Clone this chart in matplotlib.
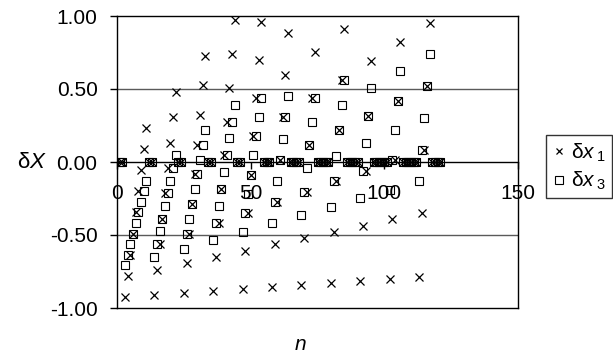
import matplotlib
matplotlib.use('Agg')
import matplotlib.pyplot as plt

plt.rcParams['font.family'] = ['Liberation Sans', 'DejaVu Sans']
plt.rcParams['mathtext.fontset'] = 'custom'
plt.rcParams['mathtext.rm'] = 'Liberation Sans'
plt.rcParams['mathtext.it'] = 'Liberation Sans:italic'

# ---- data ----
n = list(range(1, 122))

dx1 = [0, 0,
       -0.925, -0.78, -0.635, -0.49, -0.345, -0.2, -0.055, 0.09, 0.235,
       0, 0,
       -0.911, -0.737, -0.563, -0.389, -0.215, -0.041, 0.133, 0.307, 0.481,
       0, 0,
       -0.897, -0.694, -0.491, -0.288, -0.085, 0.118, 0.321, 0.524, 0.727,
       0, 0,
       -0.883, -0.651, -0.419, -0.187, 0.045, 0.277, 0.509, 0.741, 0.973,
       0, 0,
       -0.869, -0.608, -0.347, -0.086, 0.175, 0.436, 0.697, 0.958,
       0, 0, 0,
       -0.855, -0.565, -0.275, 0.015, 0.305, 0.595, 0.885,
       0, 0, 0, 0,
       -0.841, -0.522, -0.203, 0.116, 0.435, 0.754,
       0, 0, 0, 0, 0,
       -0.827, -0.479, -0.131, 0.217, 0.565, 0.913,
       0, 0, 0, 0, 0,
       -0.813, -0.436, -0.059, 0.318, 0.695,
       0, 0, 0, 0, 0, 0,
       -0.799, -0.393, 0.013, 0.419, 0.825,
       0, 0, 0, 0, 0, 0,
       -0.785, -0.35, 0.085, 0.52, 0.955,
       0, 0, 0, 0]

dx3 = [0, 0,
       -0.708, -0.635, -0.563, -0.49, -0.418, -0.345, -0.273, -0.2, -0.128,
       0, 0,
       -0.65, -0.563, -0.476, -0.389, -0.302, -0.215, -0.128, -0.041, 0.046,
       0, 0,
       -0.593, -0.491, -0.39, -0.288, -0.187, -0.085, 0.017, 0.118, 0.22,
       0, 0,
       -0.535, -0.419, -0.303, -0.187, -0.071, 0.045, 0.161, 0.277, 0.393,
       0, 0,
       -0.478, -0.347, -0.217, -0.086, 0.045, 0.175, 0.306, 0.436,
       0, 0, 0,
       -0.42, -0.275, -0.13, 0.015, 0.16, 0.305, 0.45,
       0, 0, 0, 0,
       -0.363, -0.203, -0.044, 0.116, 0.276, 0.435,
       0, 0, 0, 0, 0,
       -0.305, -0.131, 0.043, 0.217, 0.391, 0.565,
       0, 0, 0, 0, 0,
       -0.248, -0.059, 0.13, 0.318, 0.507,
       0, 0, 0, 0, 0, 0,
       -0.19, 0.013, 0.216, 0.419, 0.622,
       0, 0, 0, 0, 0, 0,
       -0.133, 0.085, 0.303, 0.52, 0.738,
       0, 0, 0, 0]

xticks = [0, 50, 100, 150]
xtick_labels = ['0', '50', '100', '150']
yticks = [-1.0, -0.5, 0.0, 0.5, 1.0]
ytick_labels = ['-1.00', '-0.50', '0.00', '0.50', '1.00']
label1 = r'δ$x\,{}_{1}$'
label3 = r'δ$x\,{}_{3}$'

# ---- figure ----
W, H = 613, 356
fig = plt.figure(figsize=(W / 100, H / 100), dpi=100)
ax = fig.add_axes([117 / W, 1 - 308 / H, 401 / W, 292 / H])

FS = 15

for yv in (0.5, -0.5):
    ax.axhline(yv, color='#5a5a5a', lw=1.0, zorder=1)
ax.axhline(-1, color='black', lw=1.0, zorder=2, clip_on=False)

h1, = ax.plot(n, dx1, ls='none', marker='x', ms=5.5, mew=0.9,
              color='black', zorder=4, label=label1)
h3, = ax.plot(n, dx3, ls='none', marker='s', ms=6, mfc='none',
              mec='black', mew=0.8, zorder=3, label=label3)

ax.set_xlim(0, 150)
ax.set_ylim(-1, 1)

ax.spines['bottom'].set_position(('data', 0))
for s in ax.spines.values():
    s.set_color('black')
    s.set_linewidth(1.0)

ax.set_xticks(xticks)
ax.set_xticklabels(xtick_labels, fontsize=FS)
ax.set_yticks(yticks)
ax.set_yticklabels(ytick_labels, fontsize=FS)
ax.tick_params(axis='y', direction='out', length=5, width=1, pad=9)
ax.tick_params(axis='x', direction='out', length=5, width=1, pad=11)

fig.text(32 / W, 1 - 163 / H, r'δ$X$', fontsize=FS + 1, ha='center', va='center')
fig.text(300 / W, 1 - 345 / H, r'$n$', fontsize=FS, ha='center', va='center')

leg = fig.legend(handles=[h1, h3], loc='upper left',
                 bbox_to_anchor=(546 / W, 1 - 135 / H),
                 fontsize=FS, frameon=True, fancybox=False,
                 edgecolor='black', handlelength=0.6, handletextpad=0.3,
                 borderpad=0.3, labelspacing=0.3, borderaxespad=0,
                 markerscale=0.85)
leg.get_frame().set_linewidth(1.0)

fig.savefig('out.png', dpi=100)
